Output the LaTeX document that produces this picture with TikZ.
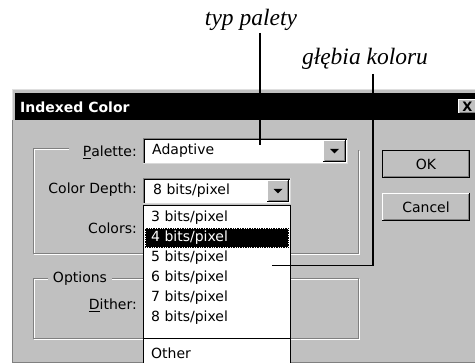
\documentclass[tikz,border=0pt]{standalone}
\usepackage{fontspec}
\newfontfamily\dlgfont{DejaVu Sans}
\newfontfamily\notefont{Liberation Serif}
\usetikzlibrary{calc,positioning}
\definecolor{wingray}{RGB}{192,192,192}
\definecolor{windark}{RGB}{128,128,128}
\tikzset{
    dlgtext/.style={font=\dlgfont\fontsize{14pt}{16pt}\selectfont, inner sep=0pt},
    fieldlbl/.style={dlgtext, anchor=east},
    listitem/.style={dlgtext, anchor=west},
    note/.style={font=\notefont\itshape\fontsize{23.5pt}{26pt}\selectfont, inner sep=1pt},
    pointer/.style={draw, line width=1.3pt},
    etchdark/.style={draw=windark, line width=1pt},
    etchlight/.style={draw=white, line width=1pt},
}
% raised 3d box: x1 y1 x2 y2 (y grows downwards)
\newcommand{\winraised}[4]{%
    \fill[wingray] (#1,#2) rectangle (#3,#4);
    \draw[white] (#1+.5,#4-1) -- (#1+.5,#2+.5) -- (#3-1,#2+.5);
    \draw[black] (#1,#4-.5) -- (#3-.5,#4-.5) -- (#3-.5,#2);
    \draw[windark] (#1+1.5,#4-1.5) -- (#3-1.5,#4-1.5) -- (#3-1.5,#2+1.5);
}
% sunken white field
\newcommand{\winsunken}[4]{%
    \fill[white] (#1,#2) rectangle (#3,#4);
    \draw[windark] (#1+.5,#4) -- (#1+.5,#2+.5) -- (#3,#2+.5);
    \draw[black] (#1+1.5,#4-1) -- (#1+1.5,#2+1.5) -- (#3-1,#2+1.5);
    \draw[wingray!60!white] (#1,#4-.5) -- (#3-.5,#4-.5) -- (#3-.5,#2);
}
\newcommand{\dropbtn}[4]{%
    \winraised{#1}{#2}{#3}{#4}
    \fill ({(#1+#3)/2-4.5},{(#2+#4)/2-2}) -- ({(#1+#3)/2+4.5},{(#2+#4)/2-2})
        -- ({(#1+#3)/2},{(#2+#4)/2+2.5}) -- cycle;
}

\begin{document}
\begin{tikzpicture}[x=1pt,y=-1pt]
\useasboundingbox (0,0) rectangle (475,363);
\fill[white] (0,0) rectangle (475,363);

% dialog window
\fill[wingray] (12,89) rectangle (476,364);
\draw[wingray!50!white] (12.5,363) -- (12.5,89.5) -- (476,89.5);
\draw[windark] (12.5,120) -- (12.5,362.5) -- (476,362.5);
\fill[black] (15,93) rectangle (476,120);
\node[dlgtext, font=\dlgfont\bfseries\fontsize{14pt}{16pt}\selectfont,
    text=white, anchor=west] (title) at (20,107.5) {Indexed Color};
\winraised{458}{99}{477}{114}
\node[dlgtext, font=\dlgfont\bfseries\fontsize{13pt}{15pt}\selectfont]
    (closex) at (467.5,106.5) {X};

% group boxes
\draw[etchlight] (69,149.5) -- (34,149.5) -- (34,254.5) -- (359.5,254.5) -- (359.5,151);
\draw[etchdark] (69,148.5) -- (33,148.5) -- (33,253.5) -- (358.5,253.5) -- (358.5,150);
\draw[etchlight] (34,279.5) rectangle (359.5,339.5);
\draw[etchdark] (33,278.5) rectangle (358.5,338.5);
\node[dlgtext, fill=wingray, inner xsep=5pt, inner ysep=1pt] (optionslbl) at (80,279) {Options};

% field labels
\node[fieldlbl] (palettelbl) at (137,152) {\underline{P}alette:};
\node[fieldlbl] (depthlbl) at (137,190) {Color Depth:};
\node[fieldlbl] (colorslbl) at (137,228) {Colors:};
\node[fieldlbl] (ditherlbl) at (137,305) {\underline{D}ither:};

% combo boxes
\winsunken{143}{138}{348}{164}
\dropbtn{323}{140}{346}{162}
\node[listitem] (paletteval) at (152,151) {Adaptive};
\winsunken{143}{178}{291}{204}
\dropbtn{267}{180}{289}{202}
\node[listitem] (depthval) at (153,191) {8 bits/pixel};

% open list
\fill[white] (143,205) rectangle (291,364);
\draw[black] (143.5,364) -- (143.5,205.5) -- (290.5,205.5) -- (290.5,364);
\fill[black] (145,228) rectangle (289,248);
\draw[white, dotted] (145.5,228.5) rectangle (288.5,247.5);
\foreach \b/\c in {3/black,4/white,5/black,6/black,7/black,8/black}
    \node[listitem, text=\c] (item\b) at (151,{218+20*(\b-3)}) {\b\ bits/pixel};
\draw[black] (143,338.5) -- (291,338.5);
\node[listitem] (itemother) at (151,353.5) {Other};

% buttons
\winraised{382}{150}{470}{178}
\draw[black] (382.5,150.5) rectangle (469.5,177.5);
\node[dlgtext] (ok) at (426,164) {OK};
\winraised{382}{193}{470}{221}
\node[dlgtext] (cancel) at (426,207) {Cancel};

% callouts
\node[note] (typnote) at (251,20) {typ palety};
\node[note] (depthnote) at (365,59) {głębia koloru};
\coordinate (typend) at (260,145);
\coordinate (depthbend) at (373,265.5);
\coordinate (depthend) at (272,265.5);
\draw[pointer] (typnote.south -| typend) ++(0,1) -- (typend);
\draw[pointer] (depthnote.south -| depthbend) ++(0,3) -- (depthbend) -- (depthend);
\end{tikzpicture}
\end{document}
